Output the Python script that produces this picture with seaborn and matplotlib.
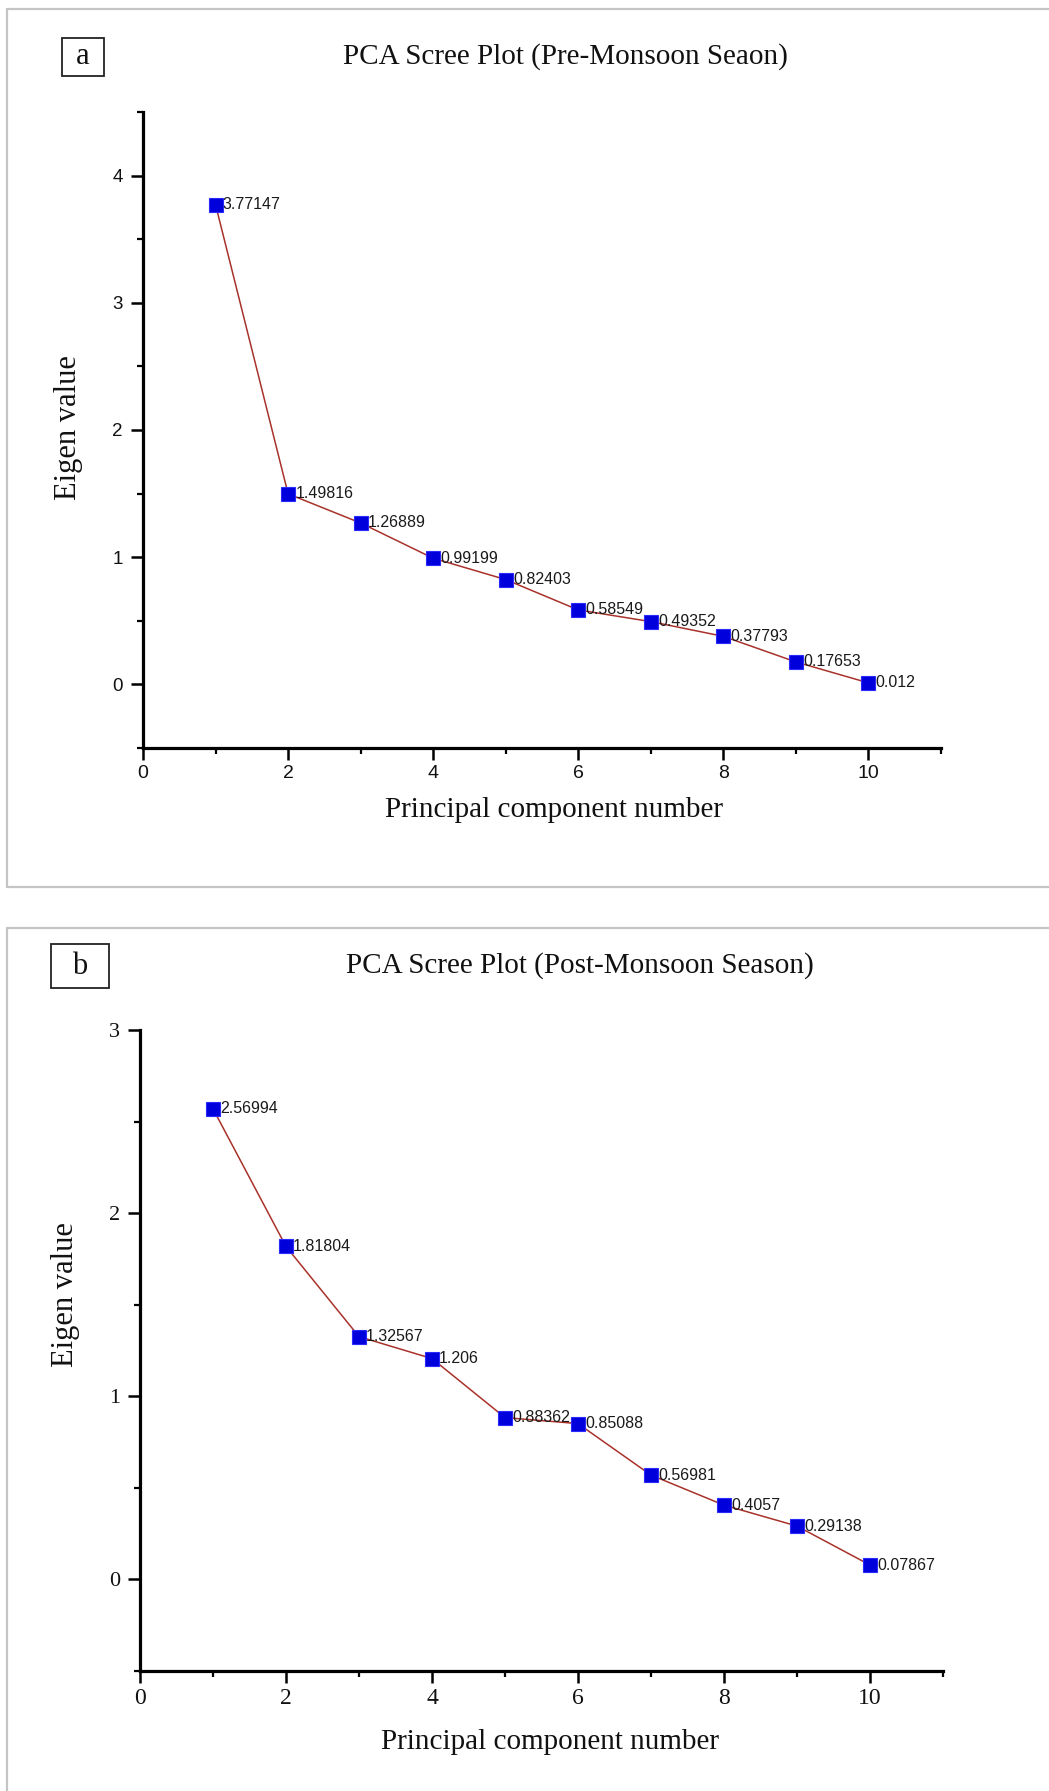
import matplotlib
matplotlib.use("Agg")
import matplotlib.pyplot as plt
from matplotlib.lines import Line2D
from matplotlib.patches import Rectangle
from matplotlib.ticker import MultipleLocator
import seaborn as sns
import pandas as pd

# Eigenvalues of the principal components for each season
components = [1, 2, 3, 4, 5, 6, 7, 8, 9, 10]
pre_monsoon = [3.77147, 1.49816, 1.26889, 0.99199, 0.82403,
               0.58549, 0.49352, 0.37793, 0.17653, 0.012]
post_monsoon = [2.56994, 1.81804, 1.32567, 1.206, 0.88362,
                0.85088, 0.56981, 0.4057, 0.29138, 0.07867]

titles = ["PCA Scree Plot (Pre-Monsoon Seaon)",
          "PCA Scree Plot (Post-Monsoon Season)"]
panel_tags = ["a", "b"]
x_ticks = [0, 2, 4, 6, 8, 10]
y_ticks_pre = [0, 1, 2, 3, 4]
y_ticks_post = [0, 1, 2, 3]

sns.set_theme(style="white")
plt.rcParams["font.family"] = ["Liberation Serif", "DejaVu Serif"]

W, H = 1049, 1791
fig = plt.figure(figsize=(W / 100, H / 100), dpi=100)
fig.patch.set_facecolor("white")


def fx(px):
    return px / W


def fy(py):
    return 1 - py / H


# outer panel frames (open on the right, second one runs off the bottom)
frame_kw = dict(color="#c4c4c4", lw=1.6, transform=fig.transFigure)
fig.add_artist(Line2D([fx(7), 1.0], [fy(9), fy(9)], **frame_kw))
fig.add_artist(Line2D([fx(7), fx(7)], [fy(9), fy(887)], **frame_kw))
fig.add_artist(Line2D([fx(7), 1.0], [fy(887), fy(887)], **frame_kw))
fig.add_artist(Line2D([fx(7), 1.0], [fy(928), fy(928)], **frame_kw))
fig.add_artist(Line2D([fx(7), fx(7)], [fy(928), 0.0], **frame_kw))

line_color = "#a8322a"
marker_face = "#0000dc"
marker_edge = "#2a2aff"


def draw_panel(rect_px, values, ylim, yticks, tick_family, xtick_size,
               ytick_size, xpad, ypad, title, title_xy, tag, tag_box,
               xlabel_xy, ylabel_xy):
    left, top, right, bottom = rect_px
    ax = fig.add_axes([fx(left), fy(bottom), fx(right - left),
                       (bottom - top) / H])
    ax.set_facecolor("none")
    df = pd.DataFrame({"pc": components, "eig": values})
    sns.lineplot(data=df, x="pc", y="eig", ax=ax, color=line_color,
                 lw=1.1, marker="s", markersize=9.5,
                 markerfacecolor=marker_face, markeredgecolor=marker_edge,
                 markeredgewidth=0.8, zorder=3)
    for xv, yv in zip(components, values):
        ax.annotate(f"{yv}", (xv, yv), xytext=(5.2, 0),
                    textcoords="offset points", ha="left", va="center",
                    fontsize=11.5, family=["Liberation Sans", "DejaVu Sans"],
                    color="#1a1a1a", zorder=4)

    ax.set_xlim(0, 11)
    ax.set_ylim(*ylim)
    ax.set_xticks(x_ticks)
    ax.set_yticks(yticks)
    ax.xaxis.set_minor_locator(MultipleLocator(1))
    ax.yaxis.set_minor_locator(MultipleLocator(0.5))
    ax.grid(False)

    for side in ("top", "right"):
        ax.spines[side].set_visible(False)
    for side in ("left", "bottom"):
        ax.spines[side].set_color("black")
        ax.spines[side].set_linewidth(2.3)
        ax.spines[side].set_capstyle("projecting")

    ax.tick_params(axis="both", which="major", direction="out", length=8.5,
                   width=1.8, color="black", bottom=True, left=True)
    ax.tick_params(axis="both", which="minor", direction="out", length=4.2,
                   width=1.6, color="black", bottom=True, left=True)
    ax.tick_params(axis="x", which="major", pad=xpad)
    ax.tick_params(axis="y", which="major", pad=ypad)
    for lab in ax.get_xticklabels():
        lab.set_family(tick_family)
        lab.set_fontsize(xtick_size)
        lab.set_color("#111111")
    for lab in ax.get_yticklabels():
        lab.set_family(tick_family)
        lab.set_fontsize(ytick_size)
        lab.set_color("#111111")

    ax.set_xlabel("Principal component number", fontsize=21, color="#111111")
    ax.set_ylabel("Eigen value", fontsize=22, color="#111111")
    ax.xaxis.set_label_coords(fx(xlabel_xy[0]), fy(xlabel_xy[1]),
                              transform=fig.transFigure)
    ax.yaxis.set_label_coords(fx(ylabel_xy[0]), fy(ylabel_xy[1]),
                              transform=fig.transFigure)
    ax.xaxis.label.set_verticalalignment("center")
    ax.yaxis.label.set_verticalalignment("center")

    fig.text(fx(title_xy[0]), fy(title_xy[1]), title, ha="center",
             va="center", fontsize=21, color="#111111")

    bx0, by0, bx1, by1 = tag_box
    fig.add_artist(Rectangle((fx(bx0), fy(by1)), fx(bx1 - bx0),
                             (by1 - by0) / H, transform=fig.transFigure,
                             fill=False, edgecolor="#222222", lw=1.3))
    fig.text(fx((bx0 + bx1) / 2), fy((by0 + by1) / 2), tag, ha="center",
             va="center", fontsize=22, color="#111111")
    return ax


draw_panel((143, 112, 941, 748), pre_monsoon, (-0.5, 4.5), y_ticks_pre,
           ["Liberation Sans", "DejaVu Sans"], 14, 13.5, 4, 6,
           titles[0], (565, 57), panel_tags[0], (62, 38, 104, 76),
           (554, 810), (69, 428))

draw_panel((140, 1030, 943, 1671), post_monsoon, (-0.5, 3.0), y_ticks_post,
           ["Liberation Serif", "DejaVu Serif"], 17, 16, 4, 6,
           titles[1], (580, 966), panel_tags[1], (51, 944, 109, 988),
           (550, 1742), (65, 1295))

fig.savefig("out.png", dpi=100, facecolor="white")
